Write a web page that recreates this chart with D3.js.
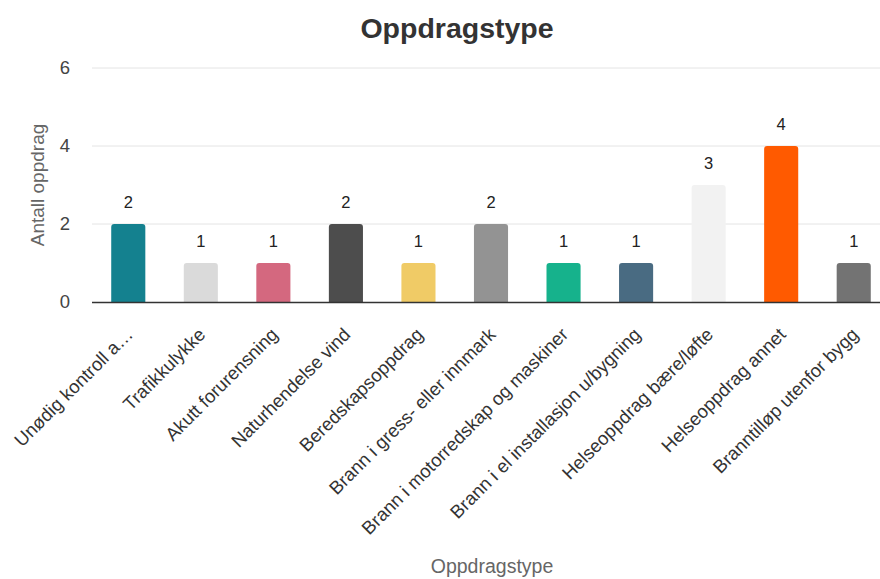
<!DOCTYPE html>
<html>
<head>
<meta charset="utf-8">
<script src="https://cdn.jsdelivr.net/npm/d3@7"></script>
<style>
  body { margin: 0; background: #fff; }
  svg { font-family: "Liberation Sans", Arial, sans-serif; }
</style>
</head>
<body>
<svg id="chart" width="880" height="579"></svg>
<script>
const categories = [
    "Unødig kontroll a…",
    "Trafikkulykke",
    "Akutt forurensning",
    "Naturhendelse vind",
    "Beredskapsoppdrag",
    "Brann i gress- eller innmark",
    "Brann i motorredskap og maskiner",
    "Brann i el installasjon u/bygning",
    "Helseoppdrag bære/løfte",
    "Helseoppdrag annet",
    "Branntilløp utenfor bygg"
];
const counts = [2, 1, 1, 2, 1, 2, 1, 1, 3, 4, 1];
const colors = ["#14818f", "#dadada", "#d4687f", "#4d4d4d", "#f0cb66", "#939393",
                "#16b28c", "#496b82", "#f2f2f2", "#ff5a00", "#737373"];
const yTicks = [0, 2, 4, 6];

const svg = d3.select("#chart");

const xScale = d3.scaleBand().domain(categories).range([92, 890]).paddingInner(0.53).paddingOuter(0.265);
const yScale = d3.scaleLinear().domain([0, 6]).range([302, 68]);

// gridlines
svg.append("g")
    .selectAll("line")
    .data(yTicks.slice(1))
    .enter().append("line")
    .attr("x1", 92)
    .attr("x2", 880)
    .attr("y1", d => yScale(d))
    .attr("y2", d => yScale(d))
    .attr("stroke", "#e4e4e4")
    .attr("stroke-width", 1);

// bars with rounded top corners
function barPath(x, y, w, h, r) {
    return `M${x},${y + h} V${y + r} Q${x},${y} ${x + r},${y} H${x + w - r} Q${x + w},${y} ${x + w},${y + r} V${y + h} Z`;
}

svg.selectAll(".bar")
    .data(counts)
    .enter().append("path")
    .attr("class", "bar")
    .attr("d", (d, i) => barPath(xScale(categories[i]), yScale(d), xScale.bandwidth(), yScale(0) - yScale(d), 3))
    .attr("fill", (d, i) => colors[i]);

// value labels
svg.selectAll(".val")
    .data(counts)
    .enter().append("text")
    .attr("class", "val")
    .attr("x", (d, i) => xScale(categories[i]) + xScale.bandwidth() / 2)
    .attr("y", d => yScale(d) - 16)
    .attr("text-anchor", "middle")
    .attr("font-size", 16.5)
    .attr("fill", "#222")
    .text(d => d);

// y axis
const yAxis = svg.append("g")
    .attr("transform", "translate(92,0)")
    .call(d3.axisLeft(yScale).tickValues(yTicks).tickFormat(d3.format("d")).tickSize(0).tickPadding(22));
yAxis.select(".domain").remove();
yAxis.selectAll("text")
    .attr("font-size", 18.5)
    .attr("fill", "#444")
    .style("font-family", "'Liberation Sans', Arial, sans-serif");

// x axis
const xAxis = svg.append("g")
    .attr("transform", "translate(0,302)")
    .call(d3.axisBottom(xScale).tickSize(0));
xAxis.select(".domain")
    .attr("d", "M92,0.5H880")
    .attr("stroke", "#333")
    .attr("stroke-width", 1.5);
xAxis.selectAll("text")
    .attr("font-size", 18.5)
    .attr("fill", "#333")
    .style("font-family", "'Liberation Sans', Arial, sans-serif")
    .attr("text-anchor", "end")
    .attr("dy", "0.35em")
    .attr("transform", "translate(-1,27) rotate(-45)");

// titles
svg.append("text")
    .attr("x", 457)
    .attr("y", 38)
    .attr("text-anchor", "middle")
    .attr("font-size", 28.5)
    .attr("font-weight", "bold")
    .attr("fill", "#333")
    .text("Oppdragstype");

svg.append("text")
    .attr("transform", "translate(44,185) rotate(-90)")
    .attr("text-anchor", "middle")
    .attr("font-size", 19)
    .attr("fill", "#666")
    .text("Antall oppdrag");

svg.append("text")
    .attr("x", 492)
    .attr("y", 573)
    .attr("text-anchor", "middle")
    .attr("font-size", 19.5)
    .attr("fill", "#666")
    .text("Oppdragstype");
</script>
</body>
</html>
